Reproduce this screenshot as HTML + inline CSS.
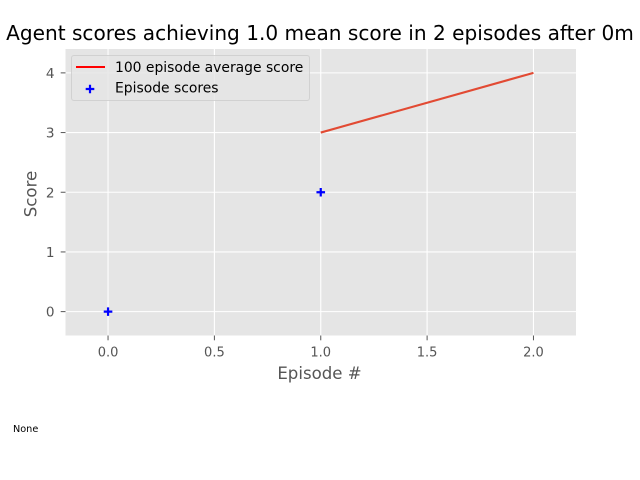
<!DOCTYPE html>
<html>
<head>
<meta charset="utf-8">
<style>
html,body{margin:0;padding:0;background:#fff;width:640px;height:480px;overflow:hidden}
svg{display:block;font-family:"DejaVu Sans",sans-serif}
</style>
</head>
<body>
<svg id="chart" width="640" height="480" viewBox="0 0 640 480" xmlns="http://www.w3.org/2000/svg"></svg>
<script>
const avgEpisodes = [1, 2];
const avgScores = [3, 4];
const episodeNumbers = [0, 1, 2];
const episodeScores = [0, 2, null];
const xTicks = [0, 0.5, 1, 1.5, 2];
const xTickLabels = ['0.0', '0.5', '1.0', '1.5', '2.0'];
const yTicks = [0, 1, 2, 3, 4];
const yTickLabels = ['0', '1', '2', '3', '4'];

const plotLeft = 65.5, plotRight = 576, plotTop = 49, plotBottom = 335.5;
const xMin = -0.2, xMax = 2.2, yMin = -0.4, yMax = 4.4;
const xScale = v => plotLeft + (v - xMin) / (xMax - xMin) * (plotRight - plotLeft);
const yScale = v => plotBottom - (v - yMin) / (yMax - yMin) * (plotBottom - plotTop);

const svg = document.getElementById('chart');
function mk(tag, attrs, text, parent) {
  const el = document.createElementNS('http://www.w3.org/2000/svg', tag);
  for (const k in attrs) el.setAttribute(k, attrs[k]);
  if (text !== undefined && text !== null) el.textContent = text;
  (parent || svg).appendChild(el);
  return el;
}

const bg = mk('rect', {x: plotLeft, y: plotTop, width: plotRight - plotLeft, height: plotBottom - plotTop, fill: '#E5E5E5'});



const title = mk('text', {x: 320, y: 40, 'text-anchor': 'middle', 'font-size': 20.1, fill: '#000'}, 'Agent scores achieving 1.0 mean score in 2 episodes after 0m');



xTicks.forEach((t, i) => {
  const x = xScale(t);
  const grid = mk('line', {x1: x, x2: x, y1: plotTop, y2: plotBottom, stroke: '#fff', 'stroke-width': 1.1});
  
  
  const tick = mk('line', {x1: x, x2: x, y1: plotBottom, y2: plotBottom + 4.8, stroke: '#555', 'stroke-width': 1});
  
  
  const label = mk('text', {x: x, y: plotBottom + 21, 'text-anchor': 'middle', 'font-size': 13, fill: '#555'}, xTickLabels[i]);
  
  
});

yTicks.forEach((t, i) => {
  const y = yScale(t);
  const grid = mk('line', {x1: plotLeft, x2: plotRight, y1: y, y2: y, stroke: '#fff', 'stroke-width': 1.1});
  
  
  const tick = mk('line', {x1: plotLeft - 4.8, x2: plotLeft, y1: y, y2: y, stroke: '#555', 'stroke-width': 1});
  
  
  const label = mk('text', {x: plotLeft - 11, y: y + 5, 'text-anchor': 'end', 'font-size': 13.6, fill: '#555'}, yTickLabels[i]);
  
  
});

const avgPoints = avgEpisodes.map((e, i) => xScale(e) + ',' + yScale(avgScores[i])).join(' ');
const avgLine = mk('polyline', {points: avgPoints, fill: 'none', stroke: '#E24A33', 'stroke-width': 2.1});



episodeNumbers.forEach((e, i) => {
  const s = episodeScores[i];
  if (s === null) return;
  const cx = xScale(e), cy = yScale(s), r = 4.3;
  const p = mk('path', {d: `M${cx - r} ${cy}H${cx + r}M${cx} ${cy - r}V${cy + r}`, stroke: '#0000FF', 'stroke-width': 2.2, fill: 'none'});
  
  
});

const xTitle = mk('text', {x: 319.5, y: 379, 'text-anchor': 'middle', 'font-size': 16.6, fill: '#555'}, 'Episode #');



const yTitle = mk('text', {x: 0, y: 0, transform: 'translate(36.5,194) rotate(-90)', 'text-anchor': 'middle', 'font-size': 16.6, fill: '#555'}, 'Score');



const legend = mk('g', {});


const legendBox = mk('rect', {x: 71.5, y: 55.5, width: 238, height: 45, rx: 2.5, fill: '#E5E5E5', 'fill-opacity': 0.8, stroke: '#ccc', 'stroke-opacity': 0.8, 'stroke-width': 1}, null, legend);


const legendLine = mk('line', {x1: 76, x2: 105, y1: 67, y2: 67, stroke: '#FF0000', 'stroke-width': 2}, null, legend);


const legendText1 = mk('text', {x: 115, y: 72, 'font-size': 13.9, fill: '#000'}, '100 episode average score', legend);


const legendMarker = mk('path', {d: 'M85.7 89H94.3M90 84.7V93.3', stroke: '#0000FF', 'stroke-width': 2.2, fill: 'none'}, null, legend);


const legendText2 = mk('text', {x: 115, y: 92.5, 'font-size': 13.9, fill: '#000'}, 'Episode scores', legend);



const noneText = mk('text', {x: 13, y: 432, 'font-size': 9.7, fill: '#000'}, 'None');


</script>
</body>
</html>
